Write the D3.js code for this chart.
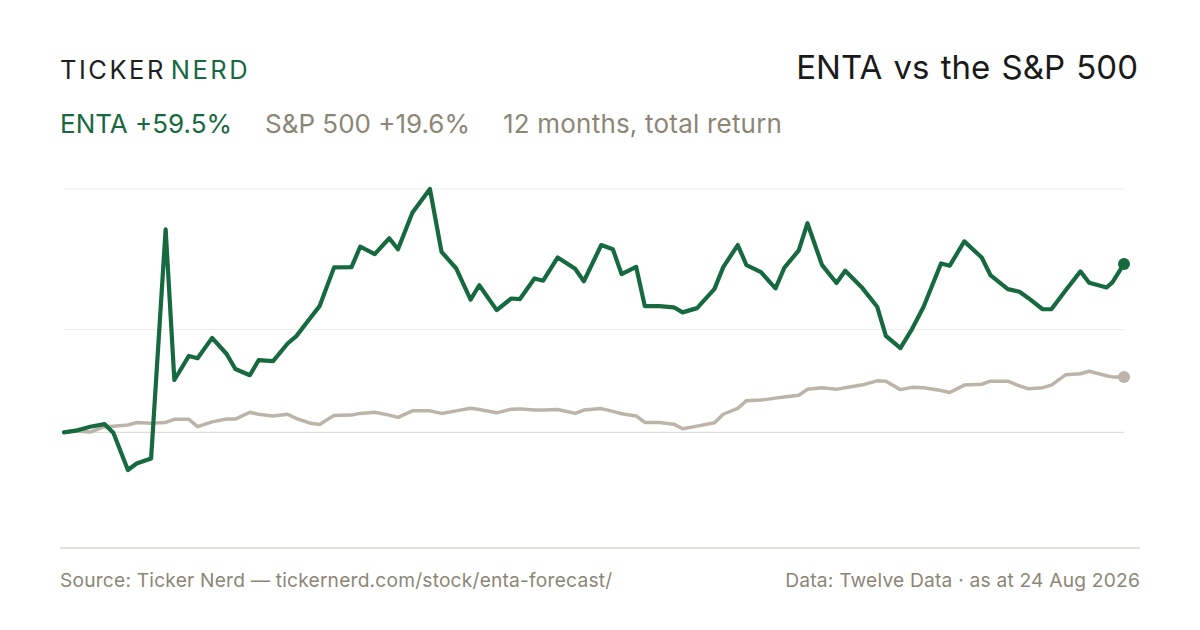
<!DOCTYPE html>
<html>
<head>
<meta charset="utf-8">
<script src="https://cdn.jsdelivr.net/npm/d3@7"></script>
<style>
    body { margin: 0; background: #fff; }
    svg { display: block; font-family: Inter, "Noto Sans", sans-serif; }
</style>
</head>
<body>
<div id="line_chart"></div>
<script>
// days since 24 Aug 2025 for each sample
var dayOffsets = [0, 4, 9, 14, 17, 22, 25, 30, 35, 38, 43, 46, 51, 56, 59, 64, 67, 72, 77, 80,
    85, 88, 93, 99, 102, 107, 112, 115, 120, 126, 130, 135, 140, 143, 149, 154, 157, 162, 165, 170,
    176, 179, 185, 189, 192, 197, 200, 205, 210, 213, 218, 224, 227, 232, 235, 240, 245, 248, 253, 256,
    261, 266, 269, 275, 280, 283, 288, 292, 296, 302, 305, 310, 316, 319, 325, 329, 332, 337, 340, 345,
    350, 353, 359, 361, 365];
// cumulative total return, %
var entaReturn = [0, 0.6, 2.0, 2.9, -0.1, -13.3, -11.0, -9.2, 71.7, 18.5, 27.0, 26.2, 33.4, 27.7, 22.4, 20.2, 25.5, 25.2, 31.4, 34.0,
    40.7, 44.6, 58.3, 58.4, 65.6, 63.0, 68.6, 64.7, 77.7, 86.0, 63.8, 58.0, 46.9, 52.0, 43.2, 47.3, 47.1, 54.4, 53.6, 61.8,
    57.8, 53.4, 66.2, 64.7, 55.9, 58.5, 44.6, 44.6, 44.2, 42.4, 43.9, 50.7, 58.4, 66.2, 59.1, 56.6, 50.9, 58.1, 64.3, 73.9,
    59.2, 52.8, 57.1, 50.9, 44.4, 34.1, 29.8, 36.5, 44.4, 59.7, 58.9, 67.5, 61.8, 55.6, 50.6, 49.7, 47.5, 43.5, 43.5, 50.3,
    56.9, 52.9, 51.2, 53.0, 59.5];
var spxReturn = [0, 0.5, 0.1, 2.0, 2.2, 2.6, 3.5, 3.2, 3.5, 4.6, 4.6, 2.0, 3.7, 4.7, 4.7, 7.1, 6.4, 5.8, 6.4, 4.9,
    3.2, 2.8, 6.0, 6.1, 6.7, 7.1, 6.1, 5.3, 7.6, 7.6, 6.7, 7.6, 8.5, 8.1, 6.9, 8.2, 8.3, 7.9, 7.9, 8.1,
    6.7, 7.9, 8.4, 7.4, 6.6, 5.8, 3.5, 3.5, 2.9, 1.3, 2.2, 3.4, 6.4, 8.5, 11.2, 11.4, 12.1, 12.5, 13.1, 15.2,
    15.8, 15.2, 15.8, 16.8, 18.2, 18.1, 15.1, 15.9, 15.8, 14.8, 14.1, 16.7, 17.0, 18.1, 18.1, 16.4, 15.4, 15.8, 16.7, 20.4,
    20.7, 21.6, 20.0, 19.6, 19.6];

var ticker = "ENTA";
var benchmark = "S&P 500";
var startDate = new Date(2025, 7, 24);
var endDate = new Date(2026, 7, 24);

function init(){
    var w = 1200;
    var h = 630;
    var left = 64, right = 1124;
    var top = 189, bottom = 470;
    var green = "#17693f";
    var grey = "#bcb4a8";
    var muted = "#8c8676";

    var dataset = dayOffsets.map(function (d, i) {
        return {
            date: d3.timeDay.offset(startDate, d),
            enta: entaReturn[i],
            spx: spxReturn[i]
        };
    });

    var svg = d3.select("#line_chart").append("svg").attr("width", w).attr("height", h);

    var xScale = d3.scaleTime().domain([startDate, endDate]).range([left, right]);
    var lo = d3.min(dataset, d => Math.min(d.enta, d.spx));
    var hi = d3.max(dataset, d => Math.max(d.enta, d.spx));
    var yScale = d3.scaleLinear().domain([lo, hi]).range([bottom, top]);

    // grid: max, middle, zero
    var grid = [hi, (hi + lo) / 2];
    svg.append("g").selectAll("line").data(grid)
        .enter().append("line")
        .attr("x1", left).attr("x2", right)
        .attr("y1", d => yScale(d)).attr("y2", d => yScale(d))
        .attr("stroke", "#efece6").attr("stroke-width", 1.2);

    svg.append("line")
        .attr("x1", left).attr("x2", right)
        .attr("y1", yScale(0)).attr("y2", yScale(0))
        .attr("stroke", "#e2ddd2").attr("stroke-width", 1.2);

    var lineSpx = d3.line().x(d => xScale(d.date)).y(d => yScale(d.spx));
    var lineEnta = d3.line().x(d => xScale(d.date)).y(d => yScale(d.enta));

    svg.append("path").attr("d", lineSpx(dataset))
        .attr("stroke", grey).attr("stroke-width", 3.5).attr("fill", "none")
        .attr("stroke-linejoin", "round").attr("stroke-linecap", "round");
    svg.append("path").attr("d", lineEnta(dataset))
        .attr("stroke", green).attr("stroke-width", 4.2).attr("fill", "none")
        .attr("stroke-linejoin", "round").attr("stroke-linecap", "round");

    var last = dataset[dataset.length - 1];
    svg.append("circle").attr("cx", xScale(last.date)).attr("cy", yScale(last.spx)).attr("r", 6).attr("fill", grey);
    svg.append("circle").attr("cx", xScale(last.date)).attr("cy", yScale(last.enta)).attr("r", 6).attr("fill", green);

    // header
    var logo = svg.append("text").attr("x", 60).attr("y", 79)
        .attr("font-size", 25.5).attr("letter-spacing", 2.5).attr("font-weight", 400);
    logo.append("tspan").attr("fill", "#1f1f1f").text("TICKER");
    logo.append("tspan").attr("fill", green).attr("dx", 5).text("NERD");

    svg.append("text").attr("x", 1138).attr("y", 79).attr("text-anchor", "end")
        .attr("font-size", 33).attr("fill", "#1a1a1a").attr("word-spacing", 2)
        .text(ticker + " vs the " + benchmark);

    var fmt = d3.format("+.1f");
    var legend = svg.append("text").attr("x", 60).attr("y", 133).attr("font-size", 26);
    legend.append("tspan").attr("fill", green).text(ticker + " " + fmt(last.enta) + "%");
    legend.append("tspan").attr("fill", muted).attr("x", 265).text(benchmark + " " + fmt(last.spx) + "%");
    legend.append("tspan").attr("fill", muted).attr("x", 503).attr("letter-spacing", 0.2).text("12 months, total return");

    // footer
    svg.append("line").attr("x1", 60).attr("x2", 1140).attr("y1", 548).attr("y2", 548)
        .attr("stroke", "#dcd7cc").attr("stroke-width", 1.5);
    svg.append("text").attr("x", 60).attr("y", 587).attr("font-size", 19.2).attr("letter-spacing", 0.2)
        .attr("fill", muted)
        .text("Source: Ticker Nerd \u2014 tickernerd.com/stock/enta-forecast/");
    svg.append("text").attr("x", 1140).attr("y", 587).attr("font-size", 19.2).attr("letter-spacing", 0.2)
        .attr("fill", muted).attr("text-anchor", "end")
        .text("Data: Twelve Data \u00b7 as at 24 Aug 2026");
}
window.onload = init;
</script>
</body>
</html>
